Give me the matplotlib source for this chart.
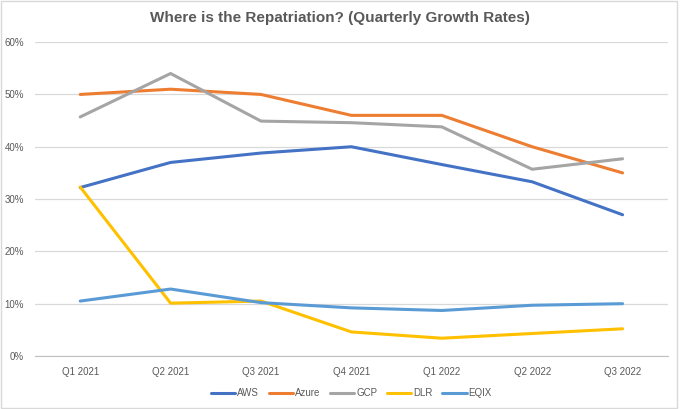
import matplotlib
matplotlib.use("Agg")
import matplotlib.pyplot as plt
from matplotlib.ticker import PercentFormatter
from matplotlib.patches import Rectangle

plt.rcParams['font.family'] = ['Liberation Sans', 'DejaVu Sans']

quarters = ['Q1 2021', 'Q2 2021', 'Q3 2021', 'Q4 2021', 'Q1 2022', 'Q2 2022', 'Q3 2022']
aws = [32.2, 37.0, 38.8, 40.0, 36.6, 33.3, 27.0]
azure = [50.0, 51.0, 50.0, 46.0, 46.0, 40.0, 35.0]
gcp = [45.7, 54.0, 44.9, 44.6, 43.8, 35.7, 37.7]
dlr = [32.3, 10.1, 10.5, 4.6, 3.4, 4.3, 5.2]
eqix = [10.5, 12.8, 10.2, 9.2, 8.7, 9.7, 10.0]

series = [('AWS', aws, '#4472C4'), ('Azure', azure, '#ED7D31'),
          ('GCP', gcp, '#A5A5A5'), ('DLR', dlr, '#FFC000'),
          ('EQIX', eqix, '#5B9BD5')]

fig = plt.figure(figsize=(6.8, 4.09), dpi=100)
ax = fig.add_axes([0.0515, 0.1296, 0.9305, 0.7674])

x = list(range(len(quarters)))
for name, vals, col in series:
    ax.plot(x, vals, color=col, linewidth=2.2, label=name, solid_capstyle='round')

ax.set_xlim(-0.5, len(quarters) - 0.5)
ax.set_ylim(0, 60)
ax.set_yticks(range(0, 61, 10))
ax.yaxis.set_major_formatter(PercentFormatter(decimals=0))
ax.set_xticks(x)
ax.set_xticklabels(quarters)
ax.grid(axis='y', color='#D9D9D9', linewidth=0.9)
ax.set_axisbelow(True)
for s in ['top', 'right', 'left']:
    ax.spines[s].set_visible(False)
ax.spines['bottom'].set_color('#BFBFBF')
ax.tick_params(axis='both', length=0, labelsize=7, colors='#595959')
ax.tick_params(axis='y', pad=8)
ax.tick_params(axis='x', pad=8)

fig.suptitle('Where is the Repatriation? (Quarterly Growth Rates)', y=0.972,
             fontsize=11, fontweight='bold', color='#595959')

ax.legend(loc='upper center', bbox_to_anchor=(0.5, -0.075), ncol=5, frameon=False,
          fontsize=7, handlelength=2.5, handletextpad=0.2, columnspacing=1.0,
          labelcolor='#595959')

fig.patches.append(Rectangle((0.002, 0.003), 0.994, 0.994, transform=fig.transFigure,
                             fill=False, edgecolor='#D9D9D9', linewidth=1))

fig.savefig('out.png', dpi=100)
